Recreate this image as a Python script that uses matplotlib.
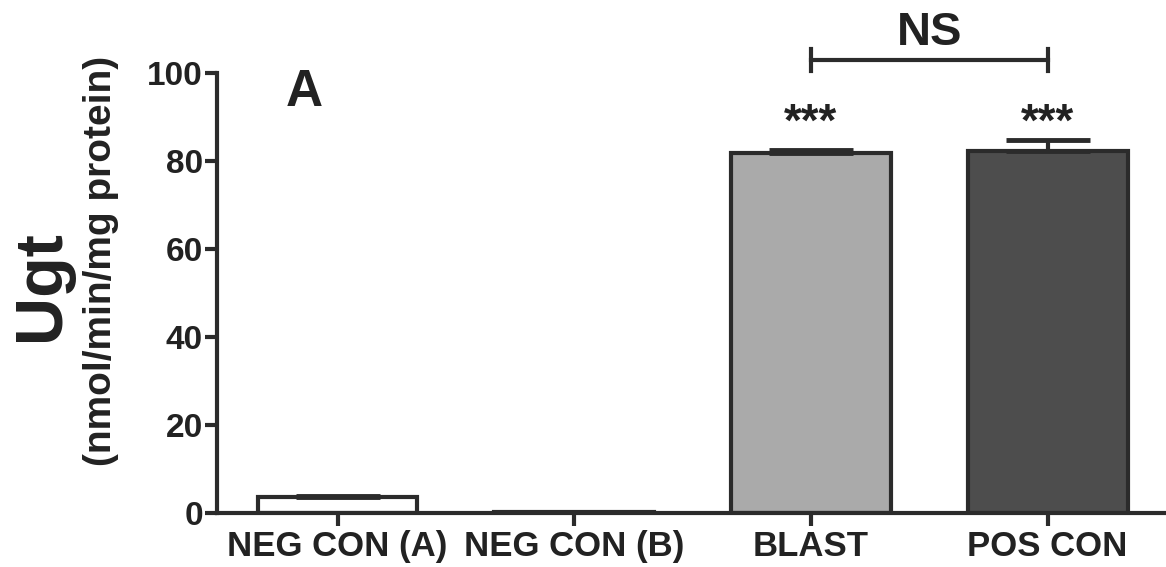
import matplotlib
matplotlib.use("Agg")
import matplotlib.pyplot as plt

categories = ["NEG CON (A)", "NEG CON (B)", "BLAST", "POS CON"]
values = [3.6, 0.2, 81.8, 82.3]
errors = [0.3, 0.05, 0.8, 2.5]
fills = ["#ffffff", "#ffffff", "#aaaaaa", "#4d4d4d"]
yticks = [0, 20, 40, 60, 80, 100]

plt.rcParams['font.family'] = ['Liberation Sans', 'DejaVu Sans']
plt.rcParams['font.weight'] = 'bold'
edge = "#2b2b2b"
tc = "#222222"

fig = plt.figure(figsize=(11.66, 5.67), dpi=100)
ax = fig.add_axes([0.186, 0.0952, 0.814, 0.776])
x = list(range(len(categories)))
ax.bar(x, values, width=0.675, color=fills, edgecolor=edge, linewidth=3, zorder=2)
for xi, v, e in zip(x, values, errors):
    ax.errorbar([xi], [v], yerr=[[0], [e]], fmt='none', ecolor=edge,
                elinewidth=3, capsize=30, capthick=3.5, zorder=3)

ax.set_xlim(-0.51, 3.5)
ax.set_ylim(0, 100)
ax.set_yticks(yticks)
ax.set_xticks(x)
ax.set_xticklabels(categories, fontsize=25, fontweight='bold', color=tc)
ax.tick_params(axis='y', labelsize=24, width=3, length=9, colors=edge, labelcolor=tc, pad=1)
ax.tick_params(axis='x', width=3, length=9, colors=edge, labelcolor=tc, pad=3)
for lbl in ax.get_yticklabels():
    lbl.set_fontweight('bold')
for s in ['top', 'right']:
    ax.spines[s].set_visible(False)
for s in ['left', 'bottom']:
    ax.spines[s].set_linewidth(3)
    ax.spines[s].set_color(edge)

# significance
for xi in [2, 3]:
    ax.text(xi, 88.5, "***", ha='center', va='center', fontsize=33, fontweight='bold', color=tc)
ax.plot([2, 3], [103, 103], color=edge, lw=3, clip_on=False)
for xi in [2, 3]:
    ax.plot([xi, xi], [100.5, 105.5], color=edge, lw=3, clip_on=False)
ax.text(2.5, 109, "NS", ha='center', va='center', fontsize=34, fontweight='bold', color=tc)
ax.text(-0.14, 95.6, "A", ha='center', va='center', fontsize=37, fontweight='bold', color=tc)

fig.text(0.036, 0.497, "Ugt", rotation=90, ha='center', va='center', fontsize=48, fontweight='bold', color=tc)
fig.text(0.087, 0.54, "(nmol/min/mg protein)", rotation=90, ha='center', va='center', fontsize=28, fontweight='bold', color=tc)

fig.savefig("out.png", dpi=100)
